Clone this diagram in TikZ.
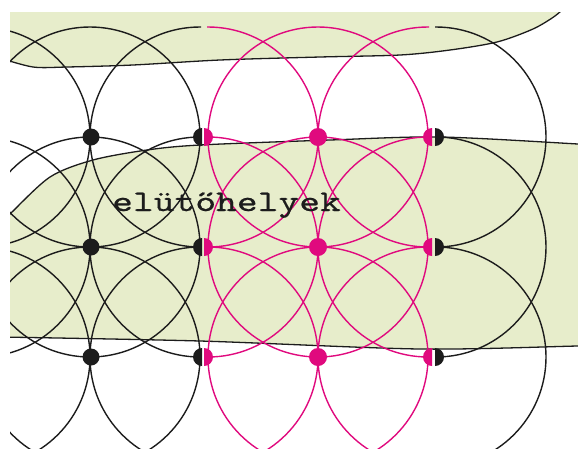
\documentclass[tikz,border=0pt]{standalone}
\usepackage{fontspec}
\newfontfamily\heavymono{lmmono10-regular.otf}[FakeBold=0.5]
\definecolor{bgreen}{RGB}{231,237,203}
\definecolor{mag}{RGB}{224,10,126}
\definecolor{ink}{RGB}{28,28,28}
\begin{document}
\begin{tikzpicture}[x=1pt,y=-1pt,
  blackline/.style={draw=ink,line width=1.4pt},
  pinkline/.style={draw=mag,line width=1.4pt},
  edgeline/.style={draw=ink,line width=1.3pt},
  labeltext/.style={text=ink,inner sep=0pt,anchor=base west}]
\useasboundingbox (0,0) rectangle (578,448);
\begin{scope}
  \clip (10,12) rectangle (578,448);
  % green areas
  \fill[bgreen] (0,0) -- plot[smooth] coordinates {(0,58) (33,67) (67,67) (133,65) (220,60) (320,57) (400,55) (450,50) (497,42) (533,29) (555,16) (566,6)} -- (566,0) -- cycle;
  \fill[bgreen] plot[smooth] coordinates {(0,224) (10,214) (50,177) (93,160) (147,150) (200,145) (330,140) (440,137) (578,144) (590,145)} -- (590,346) -- plot[smooth] coordinates {(578,346) (420,349) (200,341) (0,337)} -- cycle;
  \draw[edgeline] plot[smooth] coordinates {(0,58) (33,67) (67,67) (133,65) (220,60) (320,57) (400,55) (450,50) (497,42) (533,29) (555,16) (566,6)};
  \draw[edgeline] plot[smooth] coordinates {(0,224) (10,214) (50,177) (93,160) (147,150) (200,145) (330,140) (440,137) (578,144) (590,145)};
  \draw[edgeline] plot[smooth] coordinates {(590,346) (578,346) (420,349) (200,341) (0,337)};
\end{scope}
% black circles, left part
\begin{scope}
  \clip (10,12) rectangle (201,448);
  \foreach \cx in {-20,90,200} \foreach \cy in {137,247,357}
    \draw[blackline] (\cx,\cy) circle[radius=110pt];
\end{scope}
% pink circles, middle part
\begin{scope}
  \clip (207,12) rectangle (429,448);
  \foreach \cx in {208,318,428} \foreach \cy in {137,247,357}
    \draw[pinkline] (\cx,\cy) circle[radius=110pt];
\end{scope}
% black circles, right part
\begin{scope}
  \clip (435,12) rectangle (578,448);
  \foreach \cy in {137,247,357}
    \draw[blackline] (436,\cy) circle[radius=110pt];
\end{scope}
% dots
\foreach \cy in {137,247,357} {
  \fill[ink] (91,\cy) circle[radius=8.5pt];
  \fill[mag] (318,\cy) circle[radius=9pt];
  \begin{scope}\clip (190,0) rectangle (202,448); \fill[ink] (202,\cy) circle[radius=9pt]; \end{scope}
  \begin{scope}\clip (204,0) rectangle (216,448); \fill[mag] (204,\cy) circle[radius=9pt]; \end{scope}
  \begin{scope}\clip (420,0) rectangle (432,448); \fill[mag] (432,\cy) circle[radius=9pt]; \end{scope}
  \begin{scope}\clip (435,0) rectangle (447,448); \fill[ink] (435,\cy) circle[radius=9pt]; \end{scope}
}
\node[labeltext] (label) at (112,211) {\scalebox{1.32}[1]{\heavymono\fontsize{30}{30}\selectfont elütőhelyek}};
\end{tikzpicture}
\end{document}
